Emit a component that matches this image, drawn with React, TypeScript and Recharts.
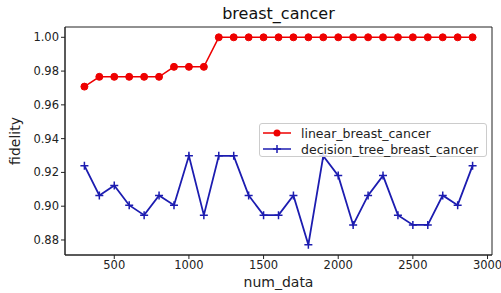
import { LineChart, Line, XAxis, YAxis, Legend, ReferenceArea } from 'recharts';

const numData = [300, 400, 500, 600, 700, 800, 900, 1000, 1100, 1200, 1300, 1400, 1500, 1600, 1700, 1800, 1900, 2000, 2100, 2200, 2300, 2400, 2500, 2600, 2700, 2800, 2900];
const linearBreastCancer = [0.9708, 0.9766, 0.9766, 0.9766, 0.9766, 0.9766, 0.9825, 0.9825, 0.9825, 1.0, 1.0, 1.0, 1.0, 1.0, 1.0, 1.0, 1.0, 1.0, 1.0, 1.0, 1.0, 1.0, 1.0, 1.0, 1.0, 1.0, 1.0];
const decisionTreeBreastCancer = [0.924, 0.9064, 0.9123, 0.9006, 0.8947, 0.9064, 0.9006, 0.9298, 0.8947, 0.9298, 0.9298, 0.9064, 0.8947, 0.8947, 0.9064, 0.8772, 0.9298, 0.9181, 0.8889, 0.9064, 0.9181, 0.8947, 0.8889, 0.8889, 0.9064, 0.9006, 0.924];
const xTicks = [500, 1000, 1500, 2000, 2500, 3000];
const yTicks = [0.88, 0.9, 0.92, 0.94, 0.96, 0.98, 1.0];

const X_DOMAIN: [number, number] = [170, 3030];
const Y_DOMAIN: [number, number] = [0.8711, 1.0061];

const RED = '#ee0000';
const BLUE = '#1c1cb0';
const FONT = '"DejaVu Sans", sans-serif';

const rows = numData.map((n, i) => ({
  n,
  linear: linearBreastCancer[i],
  tree: decisionTreeBreastCancer[i],
}));

const tickStyle = { fontSize: 11.5, fill: '#222', fontFamily: FONT };

function PlusDot(props: any) {
  const { cx, cy } = props;
  if (cx == null || cy == null) return null;
  return (
    <path d={`M${cx - 4},${cy}H${cx + 4}M${cx},${cy - 4}V${cy + 4}`} stroke={BLUE} strokeWidth={1.5} fill="none" />
  );
}

function LegendBox() {
  const items = [
    { label: 'linear_breast_cancer', color: RED, marker: 'circle' },
    { label: 'decision_tree_breast_cancer', color: BLUE, marker: 'plus' },
  ];
  return (
    <div
      style={{
        border: '1px solid #ccc',
        borderRadius: 3,
        background: 'rgba(255,255,255,0.85)',
        width: 228,
        height: 34,
        boxSizing: 'border-box',
        padding: '1px 0 0 3px',
        fontFamily: FONT,
        fontSize: 12.5,
        color: '#222',
      }}
    >
      {items.map((it) => (
        <div key={it.label} style={{ display: 'flex', alignItems: 'center', height: 16 }}>
          <svg width={28} height={12} style={{ marginRight: 10 }}>
            <line x1={0} y1={6} x2={28} y2={6} stroke={it.color} strokeWidth={1.5} />
            {it.marker === 'circle' ? (
              <circle cx={14} cy={6} r={3.5} fill={it.color} />
            ) : (
              <path d="M10,6H18M14,2V10" stroke={it.color} strokeWidth={1.5} />
            )}
          </svg>
          <span>{it.label}</span>
        </div>
      ))}
    </div>
  );
}

export default function App() {
  return (
    <div style={{ position: 'absolute', left: 0, top: 0, width: 501, height: 293, background: '#fff', fontFamily: FONT }}>
      <LineChart width={501} height={293} data={rows} margin={{ top: 27, right: 9, bottom: 0, left: 0 }}>
        <XAxis
          dataKey="n"
          type="number"
          domain={X_DOMAIN}
          ticks={xTicks}
          height={38}
          tickSize={4}
          tick={tickStyle}
          stroke="#222"
          allowDataOverflow
        />
        <YAxis
          type="number"
          domain={Y_DOMAIN}
          ticks={yTicks}
          width={65}
          tickSize={4}
          tick={tickStyle}
          tickFormatter={(v: number) => v.toFixed(2)}
          stroke="#222"
          allowDataOverflow
        />
        <ReferenceArea x1={X_DOMAIN[0]} x2={X_DOMAIN[1]} y1={Y_DOMAIN[0]} y2={Y_DOMAIN[1]} fill="none" stroke="#222" strokeWidth={1} fillOpacity={0} />
        <Line
          dataKey="linear"
          name="linear_breast_cancer"
          stroke={RED}
          strokeWidth={1.5}
          dot={{ r: 3.5, fill: RED, stroke: RED, strokeWidth: 1 }}
          isAnimationActive={false}
        />
        <Line
          dataKey="tree"
          name="decision_tree_breast_cancer"
          stroke={BLUE}
          strokeWidth={1.8}
          dot={<PlusDot />}
          isAnimationActive={false}
        />
        <Legend
          layout="horizontal"
          verticalAlign="middle"
          align="center"
          content={() => <LegendBox />}
          wrapperStyle={{ position: 'absolute', left: 259, top: 123, width: 228, height: 34 }}
        />
      </LineChart>
      <div style={{ position: 'absolute', left: 0, width: 557, top: 4, textAlign: 'center', fontSize: 16, color: '#111' }}>
        breast_cancer
      </div>
      <div style={{ position: 'absolute', left: 65, width: 427, top: 274, textAlign: 'center', fontSize: 14, color: '#222' }}>
        num_data
      </div>
      <div
        style={{
          position: 'absolute',
          left: 15,
          top: 141,
          transform: 'translate(-50%, -50%) rotate(-90deg)',
          fontSize: 14,
          color: '#222',
          whiteSpace: 'nowrap',
        }}
      >
        fidelity
      </div>
    </div>
  );
}
